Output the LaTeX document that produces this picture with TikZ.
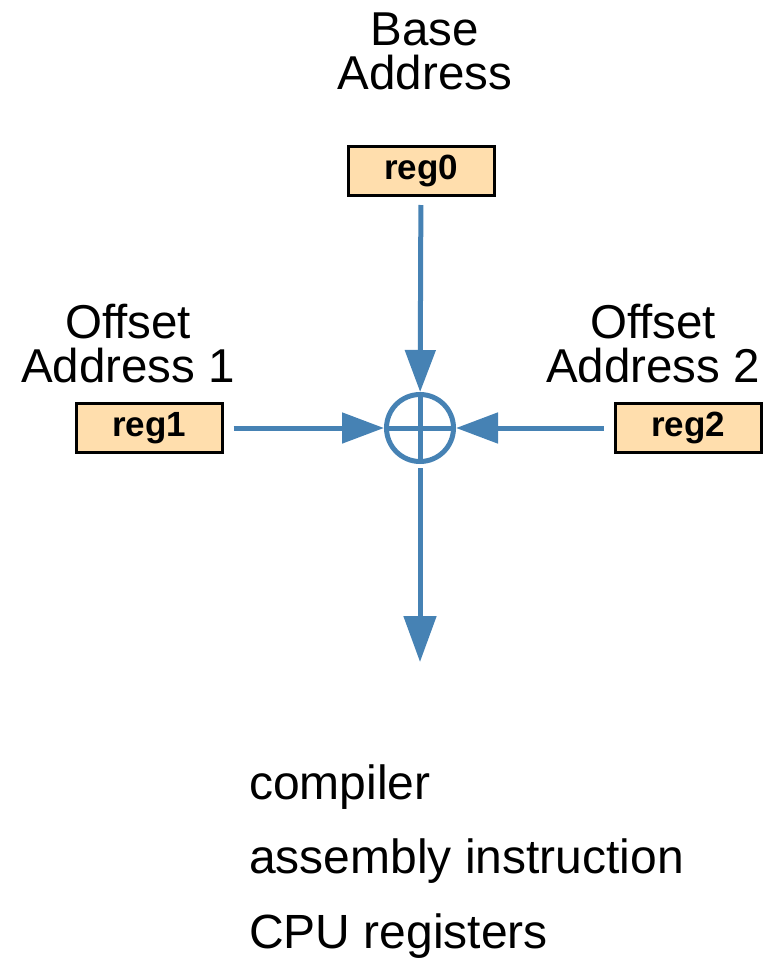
\documentclass[tikz,border=0pt]{standalone}
\usepackage{fontspec}
\setmainfont{Liberation Sans}
\usepackage{tikz}
\usetikzlibrary{arrows.meta,positioning,calc}
\definecolor{flowblue}{RGB}{70,130,180}
\definecolor{regfill}{RGB}{255,222,173}
\tikzset{
    >={Triangle[length=42pt,width=30pt]},
    regbox/.style={rectangle,draw=black,fill=regfill,line width=3pt,minimum width=146pt,minimum height=49pt,inner sep=0pt,font=\fontsize{35}{40}\selectfont\bfseries},
    flow/.style={draw=flowblue,line width=5pt,->},
    txt/.style={inner sep=0pt,align=center,font=\fontsize{47.5}{44}\selectfont},
    legend/.style={anchor=base west,inner sep=0pt,font=\fontsize{48}{44}\selectfont}
}

\begin{document}
\begin{tikzpicture}[x=1pt,y=-1pt]
    \useasboundingbox (0,0) rectangle (776,958);

    % registers
    \node[regbox] (reg0) at (421,171) {reg0};
    \node[regbox] (reg1) at (149,428) {reg1};
    \node[regbox] (reg2) at (688,428) {reg2};

    % labels
    \node[txt] (base) at (425,51) {Base\\Address};
    \node[txt] (off1) at (128,344) {Offset\\Address 1};
    \node[txt] (off2) at (653,344) {Offset\\Address 2};

    % adder
    \node[circle,draw=flowblue,line width=5pt,minimum size=67pt,inner sep=0pt] (sum) at (420,428) {};
    \draw[flowblue,line width=5pt] (sum.north) -- (sum.south) (sum.west) -- (sum.east);
    \coordinate (out) at (420,662);

    % arrows
    \draw[flow,shorten <=8pt] (reg0) -- (sum);
    \draw[flow,shorten <=10pt] (reg1) -- (sum);
    \draw[flow,shorten <=10pt] (reg2) -- (sum);
    \draw[draw=flowblue,line width=5pt,-{Triangle[length=46pt,width=32pt]},shorten <=4pt] (sum) -- (out);

    % legend
    \node[legend] (l1) at (249,799) {compiler};
    \node[legend] (l2) at (249,873) {assembly instruction};
    \node[legend] (l3) at (249,948) {CPU registers};
\end{tikzpicture}
\end{document}
